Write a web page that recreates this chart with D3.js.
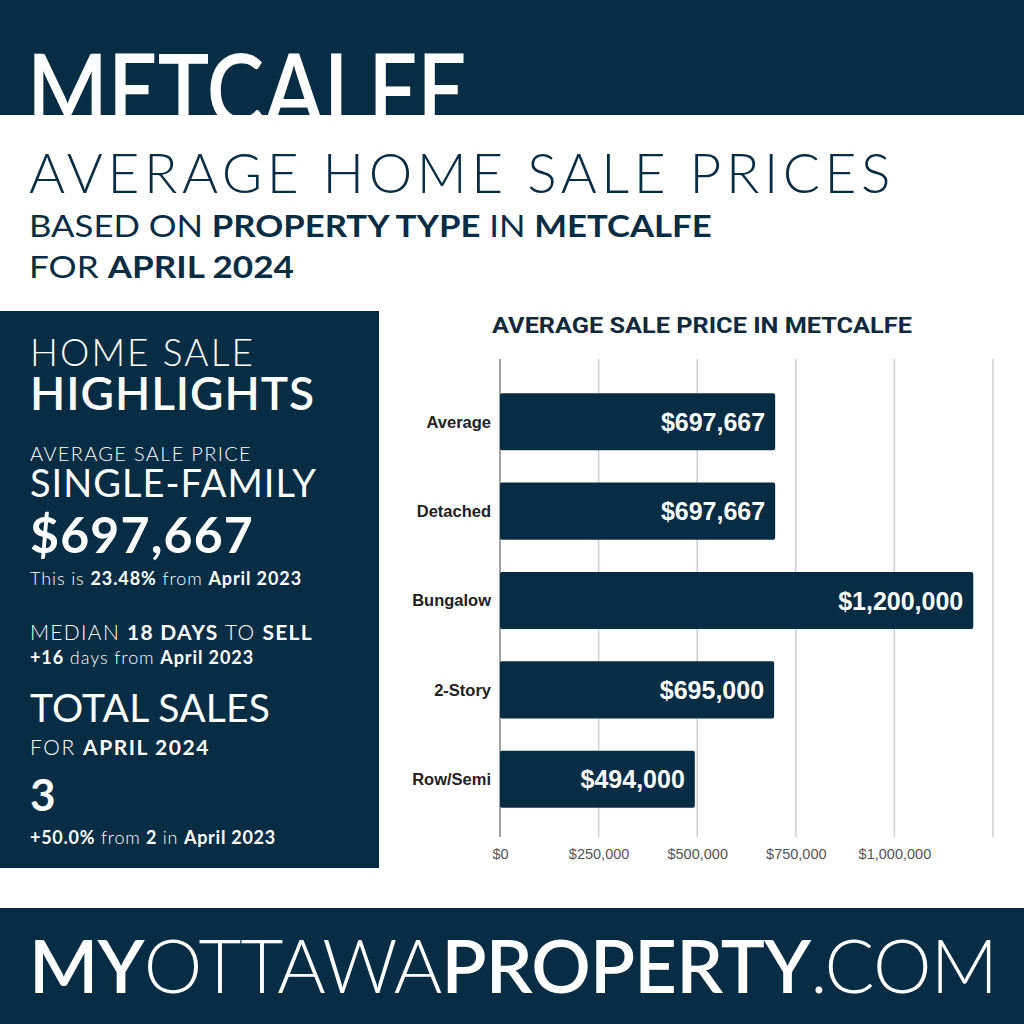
<!DOCTYPE html>
<html>
<head>
<meta charset="utf-8">
<script src="https://cdn.jsdelivr.net/npm/d3@7"></script>
<style>
  body { margin: 0; background: #fff; }
  svg { display: block; }
</style>
</head>
<body>
<div id="chart"></div>
<script>
// data
const categories = ["Average", "Detached", "Bungalow", "2-Story", "Row/Semi"];
const prices = [697667, 697667, 1200000, 695000, 494000];
const tickValues = [0, 250000, 500000, 750000, 1000000];
const gridValues = [0, 250000, 500000, 750000, 1000000, 1250000];

const width = 1024;
const height = 1024;
const navy = "#072d44";

const svg = d3.select("#chart")
    .append("svg")
    .attr("width", width)
    .attr("height", height)
    .attr("viewBox", [0, 0, width, height]);

svg.append("rect").attr("width", width).attr("height", height).attr("fill", "#fff");

// stretch a text line to a target width with letter-spacing
function fit(sel, w) {
    const n = sel.text().length;
    const cur = sel.node().getComputedTextLength();
    sel.attr("letter-spacing", (w - cur) / n);
}

// squeeze a text line horizontally to a target width
function fitX(sel, w) {
    const x0 = +sel.attr("x");
    const k = w / sel.node().getComputedTextLength();
    sel.attr("transform", "translate(" + x0 + ",0) scale(" + k + ",1) translate(" + -x0 + ",0)");
}

// line made of [text, weight] pieces
function line(x, y, size, parts, fill, w, family, squeeze) {
    const t = svg.append("text")
        .attr("x", x)
        .attr("y", y)
        .attr("font-family", family || "Lato")
        .attr("font-size", size)
        .attr("fill", fill);
    parts.forEach(p => t.append("tspan").attr("font-weight", p[1]).text(p[0]));
    if (w) {
        if (squeeze) fitX(t, w);
        else fit(t, w);
    }
    return t;
}

// top banner
svg.append("rect").attr("width", width).attr("height", 115).attr("fill", navy);
line(27, 126, 100, [["METCALFE", 600]], "#fff", 440, null, true);

// heading
line(29, 193, 55, [["AVERAGE HOME SALE PRICES", 300]], navy, 866);
line(29, 237, 31, [["BASED ON ", 400], ["PROPERTY TYPE", 700], [" IN ", 400], ["METCALFE", 700]], navy, 683, null, true);
line(29, 278, 31, [["FOR ", 400], ["APRIL 2024", 700]], navy, 265, null, true);

// left panel
svg.append("rect").attr("x", 0).attr("y", 311).attr("width", 379).attr("height", 557).attr("fill", navy);
const px = 30;
line(px, 366, 37, [["HOME SALE", 300]], "#fff", 225);
line(px, 410, 46, [["HIGHLIGHTS", 600]], "#fff", 285);
line(px, 461, 20, [["AVERAGE SALE PRICE", 300]], "#fff", 222);
line(px, 497, 38, [["SINGLE-FAMILY", 400]], "#fff", 287);
line(px, 553, 50, [["$697,667", 700]], "#fff", 224);
line(px, 585, 18, [["This is ", 300], ["23.48%", 700], [" from ", 300], ["April 2023", 700]], "#fff", 272);
line(px, 640, 21, [["MEDIAN ", 300], ["18 DAYS", 700], [" TO ", 300], ["SELL", 700]], "#fff", 283);
line(px, 664, 18, [["+16", 700], [" days from ", 300], ["April 2023", 700]], "#fff", 224);
line(px, 722, 39, [["TOTAL SALES", 400]], "#fff", 240);
line(px, 755, 21, [["FOR ", 300], ["APRIL 2024", 700]], "#fff", 180);
line(px, 811, 44, [["3", 700]], "#fff");
line(px, 844, 18, [["+50.0%", 700], [" from ", 300], ["2", 700], [" in ", 300], ["April 2023", 700]], "#fff", 246);

// chart
const x = d3.scaleLinear().domain([0, 1250000]).range([500, 993]);
const y = d3.scaleBand().domain(categories).range([361, 840]).paddingInner(0.36).paddingOuter(0.36);

line(702, 333, 22, [["AVERAGE SALE PRICE IN METCALFE", 700]], "#102a3c", 420, "Roboto", true)
    .attr("text-anchor", "middle");

svg.append("g")
    .selectAll("line")
    .data(gridValues.slice(1))
    .join("line")
    .attr("x1", d => x(d))
    .attr("x2", d => x(d))
    .attr("y1", 359)
    .attr("y2", 837)
    .attr("stroke", "#cfcfcf")
    .attr("stroke-width", 1.5);

svg.append("line")
    .attr("x1", x(0)).attr("x2", x(0))
    .attr("y1", 359).attr("y2", 837)
    .attr("stroke", "#444")
    .attr("stroke-width", 1);

const xAxis = svg.append("g")
    .attr("transform", "translate(0,837)")
    .call(d3.axisBottom(x).tickValues(tickValues).tickSize(0).tickPadding(12)
        .tickFormat(d => "$" + d3.format(",")(d)));
xAxis.select(".domain").remove();
xAxis.selectAll("text")
    .attr("font-family", "Liberation Sans")
    .attr("font-size", 14.5)
    .attr("fill", "#555");

svg.append("g")
    .selectAll("rect")
    .data(prices)
    .join("rect")
    .attr("x", x(0))
    .attr("y", (d, i) => y(categories[i]))
    .attr("width", d => x(d) - x(0))
    .attr("height", y.bandwidth())
    .attr("rx", 2)
    .attr("fill", navy);

svg.append("g")
    .selectAll("text")
    .data(prices)
    .join("text")
    .attr("x", d => x(d) - 10)
    .attr("y", (d, i) => y(categories[i]) + y.bandwidth() / 2)
    .attr("dy", "0.36em")
    .attr("text-anchor", "end")
    .attr("font-family", "Liberation Sans")
    .attr("font-weight", 700)
    .attr("font-size", 25)
    .attr("fill", "#fff")
    .text(d => "$" + d3.format(",")(d));

svg.append("g")
    .selectAll("text")
    .data(categories)
    .join("text")
    .attr("x", 491)
    .attr("y", d => y(d) + y.bandwidth() / 2)
    .attr("dy", "0.36em")
    .attr("text-anchor", "end")
    .attr("font-family", "Liberation Sans")
    .attr("font-weight", 700)
    .attr("font-size", 16.5)
    .attr("fill", "#222")
    .text(d => d);

// footer
svg.append("rect").attr("x", 0).attr("y", 908).attr("width", width).attr("height", 116).attr("fill", navy);
line(29, 993, 74, [["MY", 600], ["OTTAWA", 300], ["PROPERTY", 600], [".COM", 300]], "#fff", 968);
</script>
</body>
</html>
